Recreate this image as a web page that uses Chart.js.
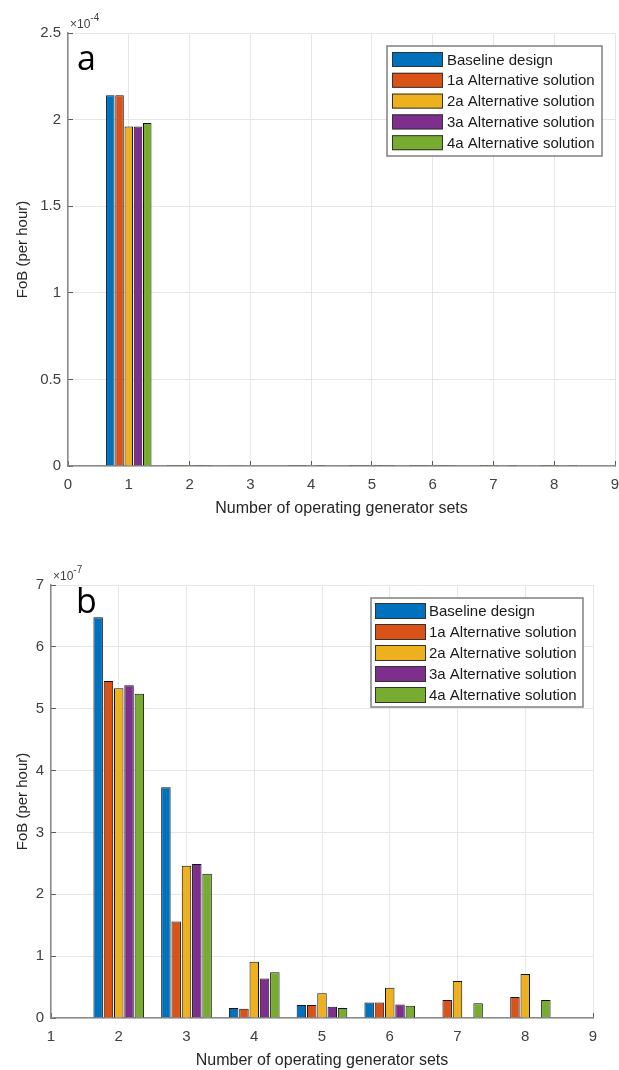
<!DOCTYPE html>
<html>
<head>
<meta charset="utf-8">
<script src="https://cdn.jsdelivr.net/npm/chart.js@4.4.1/dist/chart.umd.min.js"></script>
<style>
  html, body { margin: 0; padding: 0; background: #fff; }
  .panel { position: absolute; left: 0; width: 619px; height: 530px; }
  #panelA { top: 0; }
  #panelB { top: 540px; }
</style>
</head>
<body>
<div class="panel" id="panelA"><canvas id="chartA" width="619" height="530"></canvas></div>
<div class="panel" id="panelB"><canvas id="chartB" width="619" height="530"></canvas></div>
<script>
// series
const seriesNames = ['Baseline design', '1a Alternative solution', '2a Alternative solution',
                     '3a Alternative solution', '4a Alternative solution'];
const seriesColors = ['#0072BD', '#D95319', '#EDB120', '#7E2F8E', '#77AC30'];

// panel a: FoB with 1 generator set, in units of 1e-4 per hour
const oneSetFoB = [2.14, 2.14, 1.96, 1.96, 1.98];

// panel b: FoB for 2..8 generator sets, in units of 1e-7 per hour
const multiSets = [2, 3, 4, 5, 6, 7, 8];
const baselineFoB = [6.48, 3.73, 0.16, 0.21, 0.25, 0, 0];
const alt1aFoB    = [5.45, 1.56, 0.15, 0.21, 0.25, 0.29, 0.34];
const alt2aFoB    = [5.33, 2.46, 0.91, 0.40, 0.49, 0.60, 0.71];
const alt3aFoB    = [5.38, 2.49, 0.64, 0.18, 0.22, 0, 0];
const alt4aFoB    = [5.24, 2.33, 0.74, 0.16, 0.20, 0.24, 0.29];
const multiSetFoB = [baselineFoB, alt1aFoB, alt2aFoB, alt3aFoB, alt4aFoB];

// tick values
const xTicksA = [0, 1, 2, 3, 4, 5, 6, 7, 8, 9];
const yTicksA = [0, 0.5, 1, 1.5, 2, 2.5];
const xTicksB = [1, 2, 3, 4, 5, 6, 7, 8, 9];
const yTicksB = [0, 1, 2, 3, 4, 5, 6, 7];

const FONT = '"Liberation Sans", Arial, sans-serif';
const TEXT = '#404040';

// panel letter, exponent and boxed legend
const decor = {
  id: 'decor',
  afterDraw(chart, args, o) {
    const ctx = chart.ctx, area = chart.chartArea;
    ctx.save();
    ctx.textAlign = 'left';
    ctx.textBaseline = 'alphabetic';
    ctx.fillStyle = '#000';
    ctx.font = '34px "Open Sans", sans-serif';
    ctx.fillText(o.letter, o.letterX, o.letterY);

    ctx.fillStyle = TEXT;
    ctx.font = '12px ' + FONT;
    ctx.fillText('\u00d710', area.left + 2, area.top - 5);
    const w = ctx.measureText('\u00d710').width;
    ctx.font = '10px ' + FONT;
    ctx.fillText(o.exponent, area.left + 2 + w, area.top - 12);

    const L = o.legend;
    ctx.fillStyle = '#fff';
    ctx.fillRect(L.x, L.y, L.w, L.h);
    ctx.strokeStyle = '#808080';
    ctx.lineWidth = 1.5;
    ctx.strokeRect(L.x, L.y, L.w, L.h);
    ctx.font = '15px ' + FONT;
    ctx.textBaseline = 'middle';
    chart.data.datasets.forEach((ds, i) => {
      const top = L.y + L.first + i * L.pitch;
      ctx.fillStyle = ds.backgroundColor;
      ctx.fillRect(L.x + L.sx, top, L.sw, L.sh);
      ctx.strokeStyle = '#333';
      ctx.lineWidth = 1;
      ctx.strokeRect(L.x + L.sx + 0.5, top + 0.5, L.sw - 1, L.sh - 1);
      ctx.fillStyle = '#1a1a1a';
      ctx.fillText(ds.label, L.x + L.tx, top + L.sh / 2 + 1);
    });
    ctx.restore();
  }
};

function axis(min, max, step, ticks, opts) {
  return {
    type: 'linear', min: min, max: max, offset: false,
    afterBuildTicks(s) { s.ticks = ticks.map(v => ({ value: v })); },
    ticks: { stepSize: step, color: TEXT, font: { family: FONT, size: 15 }, padding: opts.tickPad,
             callback: v => String(+v.toFixed(2)) },
    grid: { color: '#e6e6e6', offset: false, tickLength: -5, tickColor: '#5a5a5a', tickWidth: 1 },
    border: { color: '#8a8a8a', width: 1.5 },
    title: opts.title,
    afterFit: opts.fit
  };
}

function makeChart(id, cfg) {
  return new Chart(document.getElementById(id), {
    type: 'bar',
    data: {
      datasets: seriesNames.map((name, i) => ({
        label: name,
        data: cfg.xs.map((x, j) => ({ x: x, y: cfg.values[i][j] })),
        backgroundColor: seriesColors[i],
        borderColor: '#111',
        borderWidth: 1,
        categoryPercentage: 0.76,
        barPercentage: 0.92
      }))
    },
    options: {
      responsive: false,
      animation: false,
      layout: { padding: { top: cfg.top, right: cfg.right, left: 0, bottom: 0 } },
      plugins: { legend: { display: false }, tooltip: { enabled: false }, decor: cfg.decor },
      scales: {
        x: axis(cfg.xMin, cfg.xMax, 1, cfg.xTicks, {
          tickPad: 15,
          title: { display: true, text: 'Number of operating generator sets', color: '#262626',
                   font: { family: FONT, size: 16 }, padding: { top: 0, bottom: cfg.xTitlePad } },
          fit(s) { s.height = cfg.xHeight; s.paddingLeft = 0; s.paddingRight = 0; }
        }),
        y: axis(0, cfg.yMax, cfg.yStep, cfg.yTicks, {
          tickPad: 12,
          title: { display: true, text: 'FoB (per hour)', color: '#262626',
                   font: { family: FONT, size: 15 }, padding: { top: 14, bottom: 0 } },
          fit(s) { s.width = cfg.yWidth; }
        })
      }
    },
    plugins: [decor]
  });
}

// panel a: x = 1 from oneSetFoB, x = 2..8 same data rescaled from 1e-7 to 1e-4
const valuesA = seriesNames.map((n, i) => [oneSetFoB[i]].concat(multiSetFoB[i].map(v => v / 1000)));

makeChart('chartA', {
  xs: [1].concat(multiSets), values: valuesA,
  xMin: 0, xMax: 9, xTicks: xTicksA, yMax: 2.5, yStep: 0.5, yTicks: yTicksA,
  top: 33, right: 4, yWidth: 68, xHeight: 64, xTitlePad: 12,
  decor: { letter: 'a', letterX: 77, letterY: 70, exponent: '-4',
           legend: { x: 387, y: 46, w: 215, h: 110, first: 6, pitch: 20.8, sx: 5, sw: 51, sh: 15, tx: 60 } }
});

makeChart('chartB', {
  xs: multiSets, values: multiSetFoB,
  xMin: 1, xMax: 9, xTicks: xTicksB, yMax: 7, yStep: 1, yTicks: yTicksB,
  top: 45, right: 26, yWidth: 51, xHeight: 52, xTitlePad: 0,
  decor: { letter: 'b', letterX: 76, letterY: 73, exponent: '-7',
           legend: { x: 371, y: 58, w: 212, h: 109, first: 5, pitch: 21, sx: 4, sw: 51, sh: 16, tx: 58 } }
});
</script>
</body>
</html>
